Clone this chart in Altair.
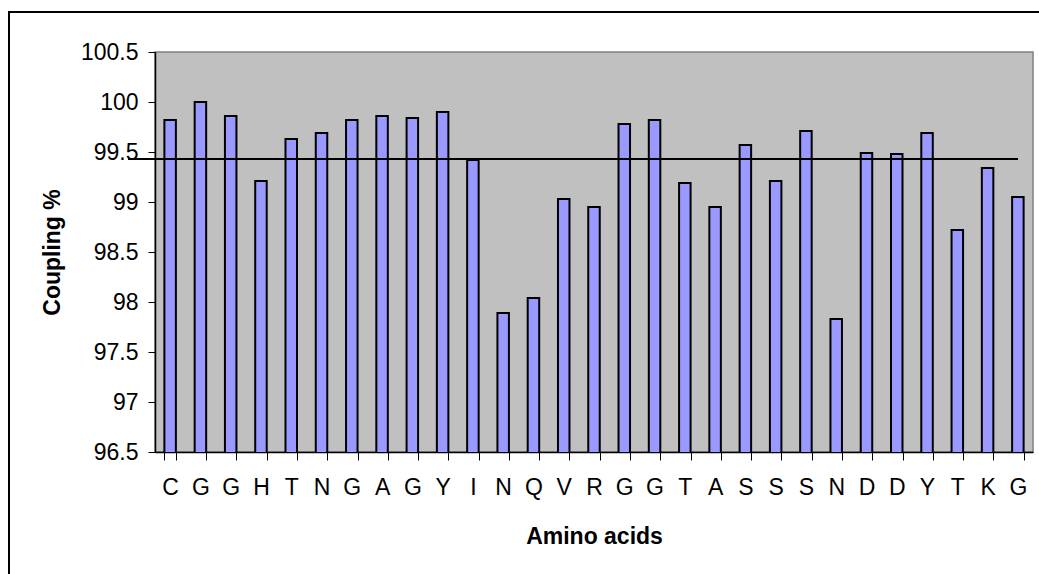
import altair as alt
import pandas as pd

amino = ["C", "G", "G", "H", "T", "N", "G", "A", "G", "Y", "I", "N", "Q", "V", "R",
         "G", "G", "T", "A", "S", "S", "S", "N", "D", "D", "Y", "T", "K", "G"]
coupling = [99.82, 100.0, 99.86, 99.21, 99.63, 99.69, 99.82, 99.86, 99.84, 99.90, 99.42,
            97.89, 98.04, 99.03, 98.95, 99.78, 99.82, 99.19, 98.95, 99.57, 99.21, 99.71,
            97.83, 99.49, 99.48, 99.69, 98.72, 99.34, 99.05]
average_line = 99.43
y_ticks = [96.5, 97, 97.5, 98, 98.5, 99, 99.5, 100, 100.5]

df = pd.DataFrame({"idx": list(range(len(amino))), "aa": amino, "pct": coupling})

W, H = 878, 400
FONT = "Liberation Sans"
FS = 23
label_arr = "[" + ",".join("'%s'" % a for a in amino) + "]"

base = alt.Chart(df)

bars = base.mark_bar(color="#9999FF", stroke="black", strokeWidth=2, clip=True).encode(
    x=alt.X("idx:O",
            scale=alt.Scale(paddingInner=0.62, paddingOuter=0.31),
            axis=alt.Axis(title="Amino acids", labelExpr=label_arr + "[datum.value]",
                          labelAngle=0, labelFontSize=FS, labelFont=FONT, labelColor="black",
                          labelPadding=16, tickBand="extent", tickSize=8, tickColor="black",
                          domainColor="black", domainWidth=1.5, titleFont=FONT,
                          titleFontSize=FS, titleFontWeight="bold", titleColor="black",
                          titlePadding=26)),
    y=alt.Y("pct:Q",
            scale=alt.Scale(domain=[96.5, 100.5], zero=False, nice=False),
            axis=alt.Axis(title="Coupling %", values=y_ticks, format="~g", grid=False,
                          labelFontSize=FS, labelFont=FONT, labelColor="black",
                          labelPadding=10, tickSize=7, tickColor="black",
                          domainColor="black", domainWidth=1.5, titleFont=FONT,
                          titleFontSize=FS, titleFontWeight="bold", titleColor="black",
                          titlePadding=16)),
)

line_df = pd.DataFrame({"v": [average_line]})
rule = alt.Chart(line_df).mark_rule(color="black", strokeWidth=2).encode(
    y="v:Q", x=alt.value(-27), x2=alt.value(W - 15)
)

border_df = pd.DataFrame({"k": [0]})
border = alt.Chart(border_df).mark_rect(fill="transparent", stroke="black", strokeWidth=2).encode(
    x=alt.value(-146), x2=alt.value(W + 40), y=alt.value(-40), y2=alt.value(H + 160)
)

chart = alt.layer(border, bars, rule).properties(
    width=W, height=H,
    padding={"left": 155, "top": 52, "right": 6, "bottom": 122},
    autosize=alt.AutoSizeParams(type="none"),
    background="white",
).configure_view(fill="#C0C0C0", stroke="#808080", strokeWidth=1.5)

chart.save("out.html", embed_options={"renderer": "svg", "actions": False})
